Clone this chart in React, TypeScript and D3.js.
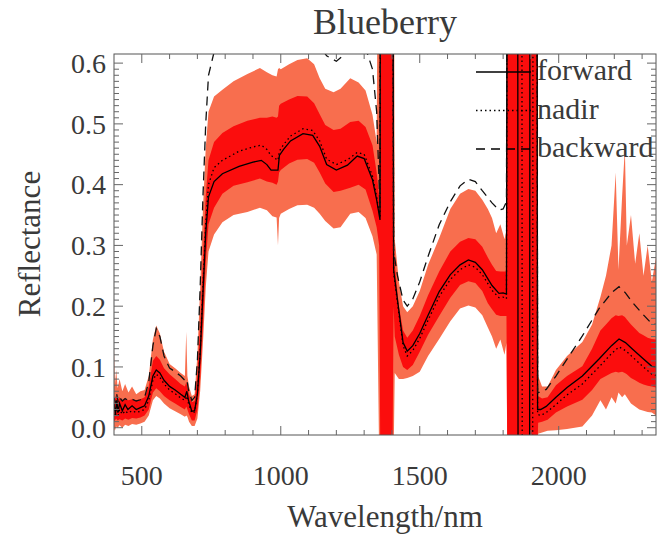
import React from "react";
import * as d3 from "d3";

// mean reflectance lines: wavelength (nm) and one value per view angle
const lineWl = [400, 405, 410, 415, 420, 430, 440, 450, 465, 480, 495, 510, 525, 540, 552, 565, 580, 600, 620, 640, 655, 662, 668, 680, 690, 700, 710, 720, 730, 740, 760, 790, 850, 900, 930, 950, 965, 990, 995, 1010, 1035, 1080, 1115, 1140, 1165, 1200, 1240, 1275, 1300, 1330, 1345, 1357, 1360, 1402, 1406, 1420, 1440, 1455, 1475, 1500, 1530, 1570, 1610, 1645, 1675, 1700, 1725, 1760, 1785, 1800, 1812, 1816, 1852, 1854, 1867, 1869, 1895, 1897, 1906, 1908, 1921, 1924, 1935, 1955, 1990, 2030, 2085, 2145, 2190, 2217, 2240, 2264, 2300, 2335, 2350];
const forward = [0.04, 0.022, 0.045, 0.025, 0.04, 0.028, 0.038, 0.03, 0.036, 0.03, 0.033, 0.036, 0.052, 0.085, 0.095, 0.09, 0.078, 0.068, 0.062, 0.055, 0.05, 0.06, 0.045, 0.027, 0.028, 0.055, 0.12, 0.22, 0.32, 0.38, 0.405, 0.418, 0.43, 0.437, 0.44, 0.433, 0.424, 0.424, 0.448, 0.458, 0.472, 0.484, 0.481, 0.463, 0.433, 0.424, 0.432, 0.447, 0.443, 0.408, 0.375, 0.342, 1.2, 1.2, 0.26, 0.21, 0.14, 0.126, 0.135, 0.155, 0.185, 0.224, 0.252, 0.268, 0.276, 0.272, 0.26, 0.234, 0.221, 0.222, 0.22, 1.2, 1.2, -0.3, -0.3, -0.3, -0.3, 1.2, 1.2, 1.2, 1.2, 0.03, 0.03, 0.035, 0.05, 0.066, 0.085, 0.113, 0.135, 0.146, 0.14, 0.13, 0.115, 0.101, 0.1];
const nadir = [0.03, 0.018, 0.035, 0.02, 0.03, 0.022, 0.028, 0.024, 0.028, 0.025, 0.027, 0.03, 0.045, 0.078, 0.088, 0.083, 0.072, 0.062, 0.056, 0.049, 0.045, 0.052, 0.04, 0.024, 0.026, 0.055, 0.125, 0.23, 0.335, 0.4, 0.428, 0.44, 0.455, 0.462, 0.465, 0.458, 0.448, 0.44, 0.455, 0.466, 0.48, 0.492, 0.489, 0.472, 0.442, 0.433, 0.441, 0.453, 0.45, 0.414, 0.38, 0.345, 1.2, 1.2, 0.255, 0.205, 0.135, 0.118, 0.127, 0.147, 0.177, 0.216, 0.244, 0.26, 0.268, 0.264, 0.252, 0.226, 0.214, 0.215, 0.212, 1.2, 1.2, 1.2, 1.2, -0.3, -0.3, -0.3, -0.3, 1.2, 1.2, 0.022, 0.02, 0.025, 0.038, 0.054, 0.072, 0.1, 0.122, 0.133, 0.127, 0.117, 0.102, 0.088, 0.086];
const backward = [0.05, 0.04, 0.055, 0.042, 0.05, 0.044, 0.048, 0.045, 0.047, 0.044, 0.046, 0.05, 0.075, 0.135, 0.163, 0.15, 0.118, 0.098, 0.092, 0.085, 0.078, 0.08, 0.062, 0.045, 0.05, 0.11, 0.23, 0.38, 0.5, 0.58, 0.618, 0.622, 0.65, 0.66, 0.66, 0.655, 0.65, 0.65, 0.66, 0.665, 0.67, 0.668, 0.65, 0.628, 0.612, 0.603, 0.618, 0.64, 0.632, 0.59, 0.52, 0.36, 1.2, 1.2, 0.29, 0.25, 0.21, 0.2, 0.212, 0.24, 0.282, 0.334, 0.372, 0.398, 0.409, 0.405, 0.39, 0.37, 0.358, 0.36, 0.372, 1.2, 1.2, 1.2, 1.2, 1.2, 1.2, 1.2, 1.2, 1.2, 1.2, 0.058, 0.058, 0.063, 0.085, 0.113, 0.151, 0.196, 0.222, 0.232, 0.222, 0.207, 0.188, 0.171, 0.17];

// spread envelopes: outer (light) and inner (red) bands
const bandWl = [400, 403, 408, 413, 420, 430, 440, 452, 465, 480, 495, 510, 525, 540, 552, 565, 580, 600, 620, 640, 655, 660, 664, 670, 680, 690, 700, 710, 720, 730, 740, 760, 790, 830, 880, 925, 950, 970, 985, 990, 994, 1000, 1030, 1060, 1095, 1120, 1140, 1160, 1190, 1215, 1250, 1280, 1305, 1330, 1345, 1354, 1358, 1402, 1406, 1410, 1425, 1440, 1455, 1475, 1500, 1530, 1570, 1610, 1645, 1675, 1700, 1725, 1745, 1760, 1775, 1790, 1805, 1812, 1815, 1923, 1926, 1940, 1960, 1990, 2030, 2085, 2120, 2150, 2170, 2190, 2205, 2215, 2228, 2238, 2245, 2260, 2275, 2290, 2305, 2320, 2335, 2350];
const outerLo = [0.0, -0.005, 0.002, 0.0, 0.004, 0.0, 0.005, 0.003, 0.006, 0.005, 0.007, 0.01, 0.02, 0.045, 0.052, 0.048, 0.04, 0.032, 0.027, 0.022, 0.018, 0.02, 0.018, 0.01, 0.003, 0.003, 0.015, 0.06, 0.14, 0.23, 0.29, 0.318, 0.338, 0.35, 0.355, 0.362, 0.358, 0.348, 0.346, 0.3, 0.345, 0.352, 0.36, 0.366, 0.367, 0.362, 0.352, 0.34, 0.328, 0.33, 0.352, 0.355, 0.345, 0.315, 0.285, -0.05, -0.05, -0.05, -0.05, 0.09, 0.08, 0.08, 0.082, 0.085, 0.092, 0.118, 0.146, 0.175, 0.196, 0.201, 0.198, 0.185, 0.165, 0.15, 0.13, 0.145, 0.12, 0.14, -0.05, -0.05, -0.01, -0.008, -0.005, -0.004, -0.002, 0.002, 0.02, 0.045, 0.03, 0.05, 0.04, 0.058, 0.05, 0.055, 0.05, 0.04, 0.035, 0.03, 0.028, 0.026, 0.025, 0.02];
const innerLo = [0.01, 0.012, 0.015, 0.012, 0.014, 0.012, 0.015, 0.013, 0.016, 0.015, 0.017, 0.02, 0.03, 0.058, 0.065, 0.06, 0.052, 0.045, 0.04, 0.034, 0.03, 0.035, 0.03, 0.022, 0.012, 0.012, 0.03, 0.08, 0.17, 0.27, 0.335, 0.362, 0.385, 0.398, 0.404, 0.41, 0.405, 0.403, 0.4, 0.405, 0.42, 0.424, 0.435, 0.441, 0.442, 0.436, 0.42, 0.402, 0.388, 0.39, 0.395, 0.4, 0.392, 0.357, 0.33, 0.3, -0.05, -0.05, 0.2, 0.15, 0.12, 0.1, 0.095, 0.103, 0.125, 0.153, 0.184, 0.214, 0.235, 0.241, 0.238, 0.225, 0.205, 0.195, 0.186, 0.184, 0.184, 0.184, -0.05, -0.05, 0.008, 0.01, 0.013, 0.025, 0.035, 0.046, 0.062, 0.08, 0.085, 0.09, 0.092, 0.091, 0.092, 0.09, 0.088, 0.082, 0.078, 0.074, 0.071, 0.069, 0.068, 0.066];
const innerHi = [0.05, 0.045, 0.055, 0.045, 0.05, 0.045, 0.048, 0.045, 0.047, 0.045, 0.047, 0.05, 0.068, 0.11, 0.118, 0.112, 0.098, 0.088, 0.08, 0.072, 0.068, 0.075, 0.066, 0.055, 0.042, 0.044, 0.085, 0.17, 0.28, 0.38, 0.44, 0.47, 0.485, 0.496, 0.505, 0.51, 0.51, 0.512, 0.51, 0.512, 0.53, 0.533, 0.54, 0.546, 0.545, 0.534, 0.516, 0.498, 0.49, 0.492, 0.503, 0.505, 0.495, 0.465, 0.42, 0.38, 1.2, 1.2, 0.32, 0.27, 0.2, 0.16, 0.148, 0.16, 0.184, 0.218, 0.257, 0.29, 0.306, 0.312, 0.31, 0.298, 0.28, 0.268, 0.258, 0.257, 0.257, 0.257, 1.2, 1.2, 0.052, 0.048, 0.05, 0.07, 0.085, 0.101, 0.13, 0.16, 0.17, 0.18, 0.185, 0.184, 0.185, 0.182, 0.178, 0.17, 0.163, 0.156, 0.152, 0.148, 0.146, 0.145];
const outerHi = [0.13, 0.07, 0.095, 0.065, 0.08, 0.06, 0.072, 0.058, 0.068, 0.055, 0.06, 0.062, 0.085, 0.145, 0.168, 0.155, 0.125, 0.105, 0.098, 0.09, 0.085, 0.158, 0.085, 0.068, 0.052, 0.055, 0.12, 0.23, 0.36, 0.46, 0.52, 0.545, 0.556, 0.57, 0.582, 0.592, 0.585, 0.58, 0.578, 0.59, 0.592, 0.59, 0.598, 0.605, 0.608, 0.598, 0.575, 0.558, 0.552, 0.558, 0.575, 0.568, 0.555, 0.515, 0.47, 1.2, 1.2, 1.2, 1.2, 0.31, 0.24, 0.2, 0.19, 0.2, 0.225, 0.268, 0.312, 0.36, 0.385, 0.393, 0.39, 0.375, 0.36, 0.345, 0.32, 0.335, 0.31, 0.325, 1.2, 1.2, 0.085, 0.068, 0.068, 0.095, 0.118, 0.141, 0.17, 0.215, 0.25, 0.3, 0.42, 0.26, 0.38, 0.46, 0.3, 0.35, 0.27, 0.32, 0.25, 0.3, 0.24, 0.28];

const xTicks = [500, 1000, 1500, 2000];
const yTicks = [0.0, 0.1, 0.2, 0.3, 0.4, 0.5, 0.6];
const legendItems = [
  { label: "forward", dash: "none" },
  { label: "nadir", dash: "1.5,3" },
  { label: "backward", dash: "9,6" },
];

const W = 658;
const H = 535;
const left = 114, right = 656, top = 54, bottom = 435;
const font = "Liberation Serif, Times New Roman, serif";
const ink = "#3a3a3a";

export default function App() {
  const x = d3.scaleLinear().domain([400, 2350]).range([left, right]);
  const y = d3.scaleLinear().domain([-0.012, 0.615]).range([bottom, top]);

  const area = (lo: number[], hi: number[]) =>
    d3.area<number>()
      .x((d) => x(d))
      .y0((_, i) => y(lo[i]))
      .y1((_, i) => y(hi[i]))(bandWl) || "";

  const line = (vals: number[]) =>
    d3.line<number>()
      .x((d) => x(d))
      .y((_, i) => y(vals[i]))(lineWl) || "";

  const xMinor = d3.range(500, 2350, 100);
  const yMinor = d3.range(0, 61).map((i) => i / 100);

  return (
    <svg width={W} height={H} style={{ position: "absolute", left: 0, top: 0 }}>
      <rect width={W} height={H} fill="#fff" />
      <defs>
        <clipPath id="plot">
          <rect x={left} y={top} width={right - left} height={bottom - top} />
        </clipPath>
      </defs>

      <g clipPath="url(#plot)">
        <path d={area(outerLo, outerHi)} fill="#f86e4e" />
        <path d={area(innerLo, innerHi)} fill="#fb0d0d" />
        <path d={line(forward)} fill="none" stroke="#000" strokeWidth={1.3} />
        <path d={line(nadir)} fill="none" stroke="#000" strokeWidth={1.3} strokeDasharray="1.5,3" />
        <path d={line(backward)} fill="none" stroke="#111" strokeWidth={1.3} strokeDasharray="9,6" />
      </g>

      {/* frame and inward ticks */}
      <rect x={left} y={top} width={right - left} height={bottom - top} fill="none" stroke="#555" strokeWidth={1} />
      {xMinor.map((t) => {
        const major = xTicks.includes(t);
        const len = major ? 9 : 5;
        return (
          <g key={"x" + t} stroke="#666" strokeWidth={1}>
            <line x1={x(t)} x2={x(t)} y1={bottom} y2={bottom - len} />
            <line x1={x(t)} x2={x(t)} y1={top} y2={top + len} />
          </g>
        );
      })}
      {yMinor.map((t, i) => {
        const major = i % 10 === 0;
        const len = major ? 9 : 5;
        return (
          <g key={"y" + i} stroke="#666" strokeWidth={1}>
            <line x1={left} x2={left + len} y1={y(t)} y2={y(t)} />
            <line x1={right} x2={right - len} y1={y(t)} y2={y(t)} />
          </g>
        );
      })}

      {xTicks.map((t) => (
        <text key={"xl" + t} x={x(t)} y={485} textAnchor="middle" fontFamily={font} fontSize={28} fill={ink}>
          {t}
        </text>
      ))}
      {yTicks.map((t) => (
        <text key={"yl" + t} x={106} y={y(t)} dy="0.35em" textAnchor="end" fontFamily={font} fontSize={28} fill={ink}>
          {t.toFixed(1)}
        </text>
      ))}

      <text x={385} y={34} textAnchor="middle" fontFamily={font} fontSize={36} fill={ink}>
        Blueberry
      </text>
      <text x={385} y={527} textAnchor="middle" fontFamily={font} fontSize={31} fill={ink}>
        Wavelength/nm
      </text>
      <text transform="translate(40,244) rotate(-90)" textAnchor="middle" fontFamily={font} fontSize={31} fill={ink}>
        Reflectance
      </text>

      {legendItems.map((d, i) => {
        const ly = 72 + i * 38.5;
        return (
          <g key={d.label}>
            <line x1={476} x2={531} y1={ly} y2={ly} stroke="#000" strokeWidth={1.3} strokeDasharray={d.dash} />
            <text x={537} y={ly + 8} fontFamily={font} fontSize={30} fill={ink}>
              {d.label}
            </text>
          </g>
        );
      })}
    </svg>
  );
}
